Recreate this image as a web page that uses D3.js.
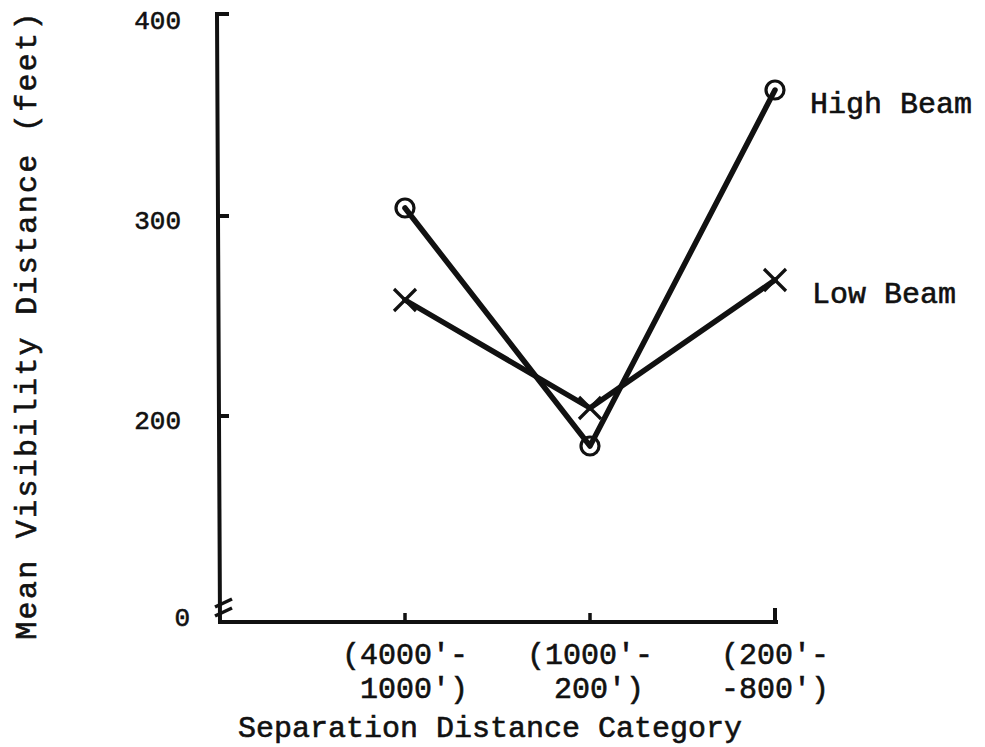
<!DOCTYPE html>
<html>
<head>
<meta charset="utf-8">
<script src="https://cdn.jsdelivr.net/npm/d3@7"></script>
<style>
  html, body { margin: 0; padding: 0; background: #fff; }
  svg { display: block; }
  text { font-family: "Liberation Mono", "DejaVu Sans Mono", monospace; fill: #111; stroke: #111; stroke-width: 0.6px; }
</style>
</head>
<body>
<svg id="chart" width="985" height="747"></svg>
<script>
// ---- data ----
const categories = ["(4000'-\n 1000')", "(1000'-\n 200')", "(200'-\n-800')"];
const highBeam = [305, 186, 364];
const lowBeam = [259, 205, 269];
const yTickValues = [200, 300, 400];
const yTickLabels = ["200", "300", "400"];
const yBreakLabel = "0";
const seriesNames = ["High Beam", "Low Beam"];
const xTitle = "Separation Distance Category";
const yTitle = "Mean Visibility Distance (feet)";

// ---- layout ----
const svg = d3.select("#chart");
const ink = "#111";
const y = d3.scaleLinear().domain([100, 400]).range([618, 18]);
const x = d3.scalePoint().domain(categories).range([405, 775]);
const axisX0 = 219, axisY0 = 622, axisXEnd = 778;

const g = svg.append("g");
g.append("path")
  .attr("d", `M${axisX0 + 10},${y(400) - 4} L${axisX0 - 2},${y(400) - 4} L${axisX0 + 1},${axisY0} L${axisXEnd},${axisY0}`)
  .attr("fill", "none").attr("stroke", ink).attr("stroke-width", 4).attr("stroke-linejoin", "miter");

// y ticks
yTickValues.forEach((v, i) => {
  if (v !== 400) {
    g.append("line").attr("x1", axisX0).attr("x2", axisX0 + 10)
      .attr("y1", y(v) - 2).attr("y2", y(v) - 2)
      .attr("stroke", ink).attr("stroke-width", 4);
  }
  g.append("text").attr("x", 181).attr("y", y(v) + 4).attr("text-anchor", "end")
    .attr("dominant-baseline", "middle").attr("font-size", 26).text(yTickLabels[i]);
});
g.append("text").attr("x", 190).attr("y", y(100) + 1).attr("text-anchor", "end")
  .attr("dominant-baseline", "middle").attr("font-size", 26).text(yBreakLabel);

// axis break marks
[603, 612].forEach(yy => {
  g.append("line").attr("x1", axisX0 - 4).attr("y1", yy + 4).attr("x2", axisX0 + 13).attr("y2", yy - 4)
    .attr("stroke", ink).attr("stroke-width", 3.5);
});

// x ticks and labels
categories.forEach((c, i) => {
  const last = i === categories.length - 1;
  g.append("line").attr("x1", x(c)).attr("x2", x(c)).attr("y1", axisY0).attr("y2", axisY0 - (last ? 14 : 9))
    .attr("stroke", ink).attr("stroke-width", last ? 4 : 3.5);
  const t = g.append("text").attr("x", x(c)).attr("text-anchor", "middle")
    .attr("font-size", 30).attr("xml:space", "preserve").style("white-space", "pre");
  c.split("\n").forEach((ln, j) => {
    t.append("tspan").attr("x", x(c)).attr("y", 664 + j * 34).text(ln);
  });
});

// titles
g.append("text").attr("x", 490).attr("y", 737).attr("text-anchor", "middle")
  .attr("font-size", 30).text(xTitle);
g.append("text").attr("transform", "translate(36,325) rotate(-90)").attr("text-anchor", "middle")
  .attr("font-size", 30).attr("letter-spacing", 2.3).text(yTitle);

// lines
const line = d3.line().x((d, i) => x(categories[i])).y(d => y(d));
[highBeam, lowBeam].forEach(s => {
  g.append("path").attr("d", line(s)).attr("fill", "none").attr("stroke", ink)
    .attr("stroke-width", 5.5).attr("stroke-linejoin", "round").attr("stroke-linecap", "round");
});

// markers
highBeam.forEach((v, i) => {
  g.append("circle").attr("cx", x(categories[i])).attr("cy", y(v)).attr("r", 9)
    .attr("fill", "none").attr("stroke", ink).attr("stroke-width", 3.2);
});
lowBeam.forEach((v, i) => {
  const cx = x(categories[i]), cy = y(v), s = 11;
  g.append("path").attr("d", `M${cx - s},${cy - s} L${cx + s},${cy + s} M${cx - s},${cy + s} L${cx + s},${cy - s}`)
    .attr("stroke", ink).attr("stroke-width", 3.2).attr("fill", "none");
});

// series labels
g.append("text").attr("x", 810).attr("y", 113).attr("font-size", 30).text(seriesNames[0]);
g.append("text").attr("x", 812).attr("y", 303).attr("font-size", 30).text(seriesNames[1]);
</script>
</body>
</html>
